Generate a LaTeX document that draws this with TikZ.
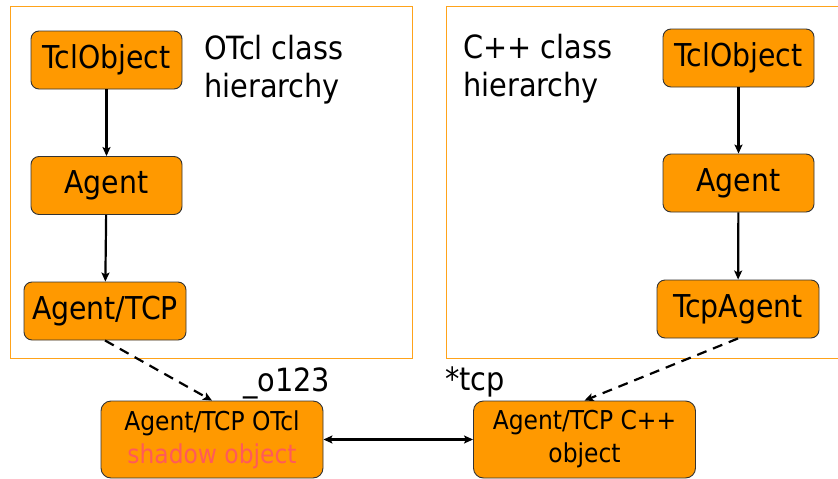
\documentclass[tikz,border=0pt]{standalone}
\usepackage{fontspec}
\setmainfont{DejaVu Sans Condensed}
\usetikzlibrary{arrows.meta}
\definecolor{boxfill}{HTML}{FF9900}
\definecolor{frameor}{HTML}{FFA31A}
\definecolor{shadowred}{HTML}{FF5A5A}
\begin{document}
\begin{tikzpicture}[x=1pt,y=-1pt,
  cls/.style={draw=black!80, line width=0.9pt, fill=boxfill, rounded corners=8pt,
    minimum width=151pt, minimum height=58pt, inner sep=0pt,
    font=\fontsize{31.5}{34}\selectfont},
  wide/.style={minimum width=162pt},
  obj/.style={draw=black!80, line width=0.9pt, fill=boxfill, rounded corners=10pt,
    minimum width=222pt, minimum height=77pt, inner sep=0pt, align=center,
    font=\fontsize{26}{33}\selectfont},
  heading/.style={anchor=base west, inner sep=0pt, font=\fontsize{32}{38}\selectfont},
  frame/.style={draw=frameor, line width=1pt},
  inh/.style={line width=2.2pt, -{Stealth[length=9pt,width=8pt,inset=2pt]}},
  shadowlink/.style={line width=2.2pt, dash pattern=on 10pt off 7pt, -{Stealth[length=9pt,width=8pt,inset=2pt]}},
  both/.style={line width=2.2pt, {Stealth[length=9pt,width=8pt,inset=2pt]}-{Stealth[length=9pt,width=8pt,inset=2pt]}}
]
\useasboundingbox (0,0) rectangle (838,479);
\begin{scope}
\clip (0,0) rectangle (838,479);
\draw[frame] (10,6) rectangle (412,358);
\draw[frame] (446,6) rectangle (845,358);
\end{scope}

\node[heading] (lh1) at (204,59) {OTcl class};
\node[heading] (lh2) at (204,97) {hierarchy};
\node[heading] (rh1) at (463,58) {C++ class};
\node[heading] (rh2) at (463,96) {hierarchy};

\node[cls] (L1) at (106.5,60) {TclObject};
\node[cls] (L2) at (106.5,185.5) {Agent};
\node[cls,wide] (L3) at (105,311) {Agent/TCP};

\node[cls] (R1) at (738.5,58) {TclObject};
\node[cls] (R2) at (738.5,183) {Agent};
\node[cls,wide] (R3) at (738,309) {TcpAgent};

\node[obj] (B1) at (212,439.5) {Agent/TCP OTcl\\\textcolor{shadowred}{shadow object}};
\node[obj] (B2) at (584.5,439.5) {Agent/TCP C++\\object};

\node[heading] (o123) at (243,391) {\_o123};
\node[heading] (tcp) at (445,390) {*tcp};

\draw[inh] (L1) -- (L2);
\draw[inh] (L2) -- (L3);
\draw[inh] (R1) -- (R2);
\draw[inh] (R2) -- (R3);
\draw[shadowlink] (L3.south) -- (B1.north);
\draw[shadowlink] (R3.south) -- (B2.north);
\draw[both] (B1) -- (B2);
\end{tikzpicture}
\end{document}
